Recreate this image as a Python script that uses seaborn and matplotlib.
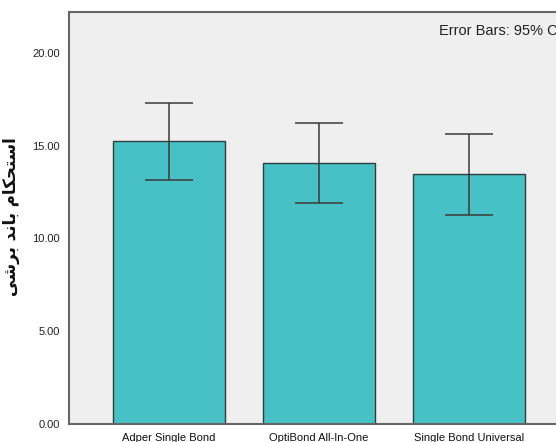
import matplotlib
matplotlib.use("Agg")
import matplotlib.pyplot as plt
import seaborn as sns
import pandas as pd
import numpy as np

categories = ["Adper Single Bond", "OptiBond All-In-One", "Single Bond Universal"]
means = [15.26, 14.09, 13.48]
ci_low = [13.15, 11.90, 11.27]
ci_high = [17.30, 16.24, 15.65]
ytick_vals = [0, 5, 10, 15, 20]
ytick_labels = ["0.00", "5.00", "10.00", "15.00", "20.00"]

# Persian label "استحکام باند برشی" in shaped presentation forms, visual order
ylabel = ("\uFBFD\uFEB7\uFEAE\uFE91" + " " +
          "\uFEAA\uFEE7\uFE8E\uFE91" + " " +
          "\uFEE1\uFE8E\uFB91\uFEA4\uFE98\uFEB3\uFE8D")

sns.set_style("white")
plt.rcParams["font.family"] = ["Liberation Sans", "DejaVu Sans"]

df = pd.DataFrame({"group": categories, "value": means})

fig = plt.figure(figsize=(5.56, 4.42), dpi=100)
fig.patch.set_facecolor("white")
ax = fig.add_axes([69/556, 18/442, 500/556, 412/442])
ax.set_facecolor("#EFEFEF")

sns.barplot(data=df, x="group", y="value", order=categories, errorbar=None,
            color="#47C1C5", saturation=1, width=0.75, edgecolor="#2F3F40",
            linewidth=1.0, ax=ax)

m = np.array(means)
yerr = np.vstack([m - np.array(ci_low), np.array(ci_high) - m])
ax.errorbar(np.arange(len(categories)), m, yerr=yerr, fmt="none",
            ecolor="#3A3A3A", elinewidth=1.1, capsize=17, capthick=1.1)

ax.set_xlim(-0.667, 2.667)
ax.set_ylim(0, 22.21)
ax.set_yticks(ytick_vals)
ax.set_yticklabels(ytick_labels, fontsize=8, color="#222222")
ax.set_xticks(range(len(categories)))
ax.set_xticklabels(categories, fontsize=8, color="#111111")
ax.tick_params(axis="both", direction="out", length=5, width=1, color="#555555", pad=1.5)
ax.set_xlabel("")
ax.set_ylabel(ylabel, family=["DejaVu Sans"], fontweight="bold", fontsize=12,
              color="#111111")
ax.yaxis.set_label_coords((20 - 69) / 500, (424 - 217) / 412)

for s in ["left", "bottom", "top", "right"]:
    ax.spines[s].set_visible(True)
    ax.spines[s].set_color("#666666")
    ax.spines[s].set_linewidth(1.5)

ax.text(439/556, 1 - 31/442, "Error Bars: 95% CI", transform=fig.transFigure,
        fontsize=10.5, color="#222222", ha="left", va="center")

fig.savefig("out.png", dpi=100)
